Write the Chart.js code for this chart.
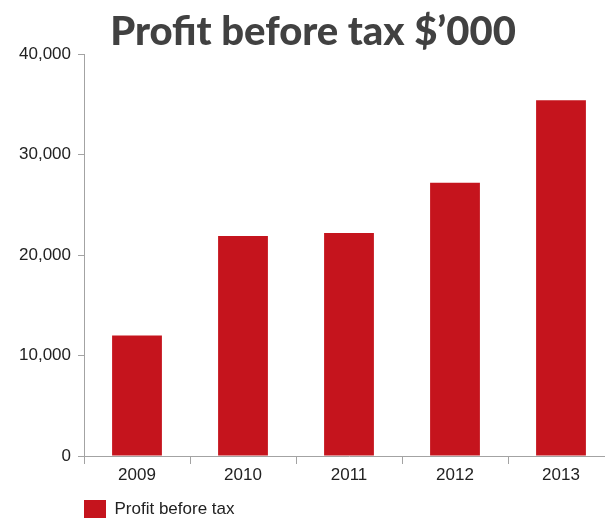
<!DOCTYPE html>
<html lang="en">
<head>
  <meta charset="UTF-8">
  <title>Profit before tax</title>
  <script src="https://cdn.jsdelivr.net/npm/chart.js"></script>
  <style>
    html, body {
      margin: 0;
      padding: 0;
      overflow: hidden;
      background: #ffffff;
    }
  </style>
</head>
<body>
  <canvas id="profit-chart" width="614" height="528"></canvas>

  <script>
    // Chart data
    const years = ['2009', '2010', '2011', '2012', '2013'];
    const profitBeforeTax = [12000, 21900, 22200, 27200, 35400];
    const yTicks = [0, 10000, 20000, 30000, 40000];

    const barRed = '#c5141d';
    const axisGrey = '#a3a3a3';
    const labelFont = { family: "'Liberation Sans', Arial, sans-serif", size: 17 };

    // Nudge the legend so its box lines up with the y axis
    const legendOffset = {
      id: 'legendOffset',
      afterLayout(chart) {
        const lg = chart.legend;
        const shift = chart.chartArea.left - lg.left;
        lg.left += shift;
        lg.right += shift;
      }
    };

    const ctx = document.getElementById('profit-chart').getContext('2d');
    const profitChart = new Chart(ctx, {
      type: 'bar',
      data: {
        labels: years,
        datasets: [{
          label: 'Profit before tax',
          data: profitBeforeTax,
          backgroundColor: barRed,
          borderWidth: 0,
          categoryPercentage: 1,
          barPercentage: 0.47
        }]
      },
      options: {
        responsive: false,
        animation: false,
        layout: {
          padding: { left: 12, right: 0, top: 0, bottom: 0 }
        },
        scales: {
          x: {
            grid: {
              offset: true,
              drawOnChartArea: false,
              tickLength: 8,
              color: axisGrey
            },
            border: { color: axisGrey, width: 1 },
            ticks: {
              color: '#222222',
              font: labelFont,
              padding: 1,
              maxRotation: 0
            },
            afterFit(scale) {
              scale.height = 44;
            }
          },
          y: {
            min: 0,
            max: yTicks[yTicks.length - 1],
            afterBuildTicks(scale) {
              scale.ticks = yTicks.map(v => ({ value: v }));
            },
            grid: {
              drawOnChartArea: false,
              tickLength: 6,
              color: axisGrey
            },
            border: { color: axisGrey, width: 1 },
            ticks: {
              color: '#222222',
              font: labelFont,
              padding: 7,
              callback: v => v.toLocaleString('en-US')
            },
            afterFit(scale) {
              scale.width = 72;
            }
          }
        },
        plugins: {
          title: {
            display: true,
            text: 'Profit before tax $’000',
            color: '#414141',
            font: { family: 'Lato, sans-serif', size: 40, weight: '900', lineHeight: 1.0 },
            padding: { top: 12, bottom: 2 }
          },
          legend: {
            position: 'bottom',
            align: 'start',
            labels: {
              boxWidth: 22,
              boxHeight: 18,
              padding: 0,
              color: '#222222',
              font: labelFont
            }
          },
          tooltip: { enabled: false }
        }
      },
      plugins: [legendOffset]
    });
  </script>
</body>
</html>
